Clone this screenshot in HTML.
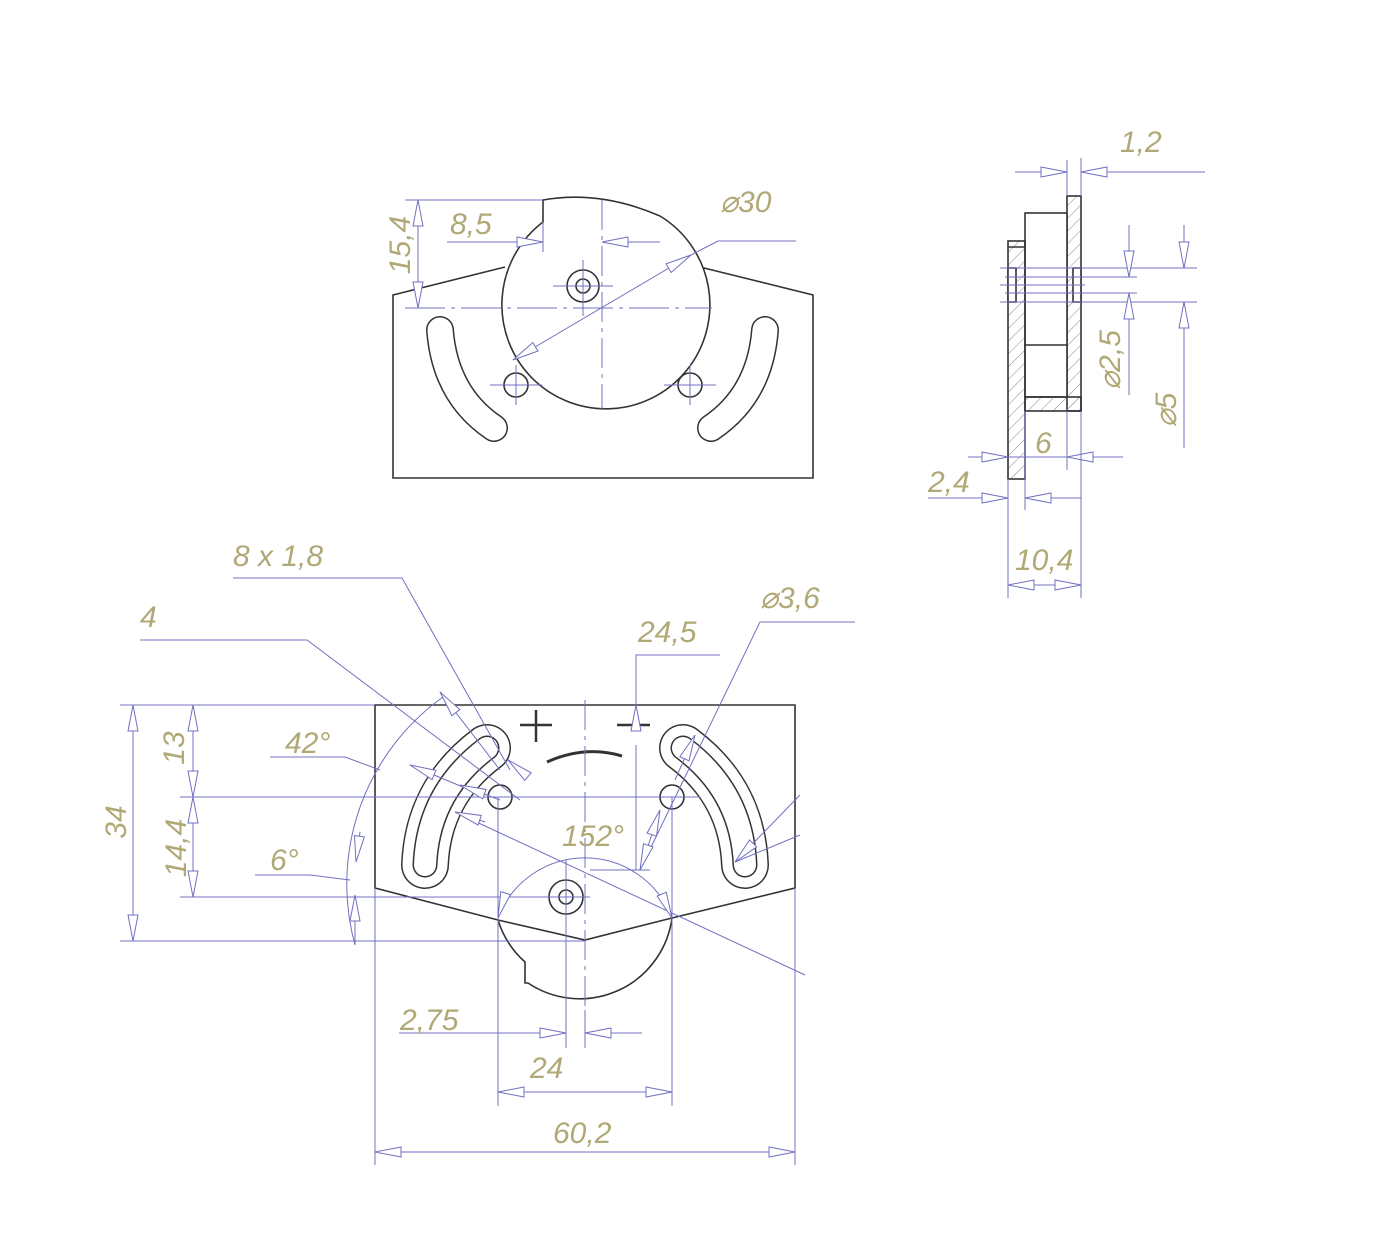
<!DOCTYPE html>
<html><head><meta charset="utf-8"><style>html,body{margin:0;padding:0;background:#fff}svg{display:block}
text{font-family:"Liberation Sans",sans-serif;font-style:italic;fill:#b0a876;font-size:30px}</style></head>
<body>
<svg width="1375" height="1237" viewBox="0 0 1375 1237" xmlns="http://www.w3.org/2000/svg">
<defs>
<marker id="a" viewBox="-28 -7 30 14" refX="0" refY="0" markerWidth="30" markerHeight="14" markerUnits="userSpaceOnUse" orient="auto-start-reverse">
<path d="M0,0 L-26,-5 L-26,5 Z" fill="#fff" stroke="#7070c0" stroke-width="1"/></marker>
<pattern id="h" width="9" height="9" patternUnits="userSpaceOnUse" patternTransform="rotate(45)"><line x1="0" y1="0" x2="0" y2="9" stroke="#8a8a8a" stroke-width="1"/></pattern>
</defs>
<rect width="1375" height="1237" fill="#fff"/>

<!-- ===== TOP VIEW ===== -->
<g fill="none" stroke="#333" stroke-width="1.6">
<path d="M505,267 L393,295 L393,478 L813,478 L813,295 L700,267"/>
<path d="M543,222 L543,200 Q600,190 660,216 A104,104 0 1 1 543,222 Z" fill="#fff"/>
<circle cx="583" cy="286" r="16"/><circle cx="583" cy="286" r="7"/>
<circle cx="516" cy="385" r="12"/><circle cx="690" cy="385" r="12"/>
</g>
<g fill="none" stroke-linecap="round">
<path d="M440,330 Q445,395 494,428" stroke="#333" stroke-width="28"/>
<path d="M440,330 Q445,395 494,428" stroke="#fff" stroke-width="25"/>
<path d="M765,330 Q760,395 711,428" stroke="#333" stroke-width="28"/>
<path d="M765,330 Q760,395 711,428" stroke="#fff" stroke-width="25"/>
</g>
<g stroke="#7070c0" stroke-width="1" fill="none">
<line x1="405" y1="200" x2="543" y2="200"/><line x1="405" y1="308" x2="712" y2="308" stroke-dasharray="40,6,4,6"/>
<line x1="418" y1="200" x2="418" y2="308" marker-start="url(#a)" marker-end="url(#a)"/>
<line x1="447" y1="242" x2="543" y2="242" marker-end="url(#a)"/>
<line x1="660" y1="242" x2="602" y2="242" marker-end="url(#a)"/>
<line x1="543" y1="222" x2="543" y2="252"/>
<line x1="602" y1="200" x2="602" y2="410" stroke-dasharray="30,6,4,6"/>
<line x1="553" y1="286" x2="613" y2="286"/><line x1="583" y1="260" x2="583" y2="316"/>
<line x1="490" y1="385" x2="542" y2="385"/><line x1="516" y1="365" x2="516" y2="405"/>
<line x1="664" y1="385" x2="716" y2="385"/><line x1="690" y1="365" x2="690" y2="405"/>
<line x1="513" y1="360" x2="691" y2="255" marker-start="url(#a)" marker-end="url(#a)"/>
<polyline points="691,255 718,241 796,241"/>
</g>
<text transform="translate(410,245) rotate(-90)" text-anchor="middle">15,4</text>
<text x="450" y="234">8,5</text>
<text x="720" y="212">⌀30</text>

<!-- ===== SIDE VIEW ===== -->
<g stroke="#333" stroke-width="1.6">
<rect x="1067" y="196" width="14" height="215" fill="url(#h)"/>
<rect x="1025" y="213" width="42" height="184" fill="#fff"/>
<line x1="1025" y1="345" x2="1067" y2="345"/>
<rect x="1025" y="397" width="56" height="14" fill="url(#h)"/>
<rect x="1008" y="241" width="17" height="238" fill="url(#h)"/>
<line x1="1008" y1="247" x2="1025" y2="247"/>
<rect x="1008" y="268" width="8" height="34" fill="#fff"/>
<rect x="1073" y="268" width="8" height="34" fill="#fff"/>
</g>
<g stroke="#7070c0" stroke-width="1" fill="none">
<line x1="1067" y1="160" x2="1067" y2="196"/><line x1="1081" y1="158" x2="1081" y2="196"/>
<line x1="1015" y1="172" x2="1067" y2="172" marker-end="url(#a)"/>
<line x1="1205" y1="172" x2="1081" y2="172" marker-end="url(#a)"/>
<line x1="1000" y1="268" x2="1197" y2="268"/><line x1="1005" y1="277" x2="1137" y2="277"/>
<line x1="1000" y1="285" x2="1085" y2="285"/><line x1="1005" y1="293" x2="1137" y2="293"/>
<line x1="1000" y1="302" x2="1197" y2="302"/>
<line x1="1129" y1="225" x2="1129" y2="277" marker-end="url(#a)"/>
<line x1="1129" y1="395" x2="1129" y2="293" marker-end="url(#a)"/>
<line x1="1184" y1="225" x2="1184" y2="268" marker-end="url(#a)"/>
<line x1="1184" y1="448" x2="1184" y2="302" marker-end="url(#a)"/>
<line x1="1067" y1="411" x2="1067" y2="470"/>
<line x1="968" y1="457" x2="1008" y2="457" marker-end="url(#a)"/>
<line x1="1123" y1="457" x2="1067" y2="457" marker-end="url(#a)"/>
<line x1="1008" y1="457" x2="1067" y2="457"/>
<line x1="1025" y1="411" x2="1025" y2="510"/>
<line x1="928" y1="498" x2="1008" y2="498" marker-end="url(#a)"/>
<line x1="1081" y1="498" x2="1025" y2="498" marker-end="url(#a)"/>
<line x1="1008" y1="479" x2="1008" y2="598"/><line x1="1081" y1="411" x2="1081" y2="598"/>
<line x1="1008" y1="585" x2="1081" y2="585" marker-start="url(#a)" marker-end="url(#a)"/>
</g>
<text x="1120" y="152">1,2</text>
<text x="1035" y="453">6</text>
<text x="928" y="492">2,4</text>
<text x="1015" y="570">10,4</text>
<text transform="translate(1120,360) rotate(-90)" text-anchor="middle">⌀2,5</text>
<text transform="translate(1176,410) rotate(-90)" text-anchor="middle">⌀5</text>

<!-- ===== BOTTOM VIEW ===== -->
<g fill="none" stroke="#333" stroke-width="1.6">
<path d="M375,705 L795,705 L795,888 L672,918 A93,93 0 0 1 528,983 L525,983 L525,962 A93,93 0 0 1 498,920 L375,888 Z"/>
<path d="M498,920 L585,940 L672,918"/>
<circle cx="566" cy="897" r="17"/><circle cx="566" cy="897" r="7"/>
<circle cx="500" cy="797" r="12"/><circle cx="672" cy="797" r="12"/>
<path d="M547,762 Q585,745 622,756" stroke-width="3"/>
<path d="M520,725 L552,725 M536,710 L536,742 M617,725 L650,725" stroke-width="2.5"/>
</g>
<g fill="none" stroke-linecap="round">
<path d="M487,748 Q428,792 425,865" stroke="#333" stroke-width="48"/>
<path d="M487,748 Q428,792 425,865" stroke="#fff" stroke-width="45"/>
<path d="M487,748 Q428,792 425,865" stroke="#333" stroke-width="25"/>
<path d="M487,748 Q428,792 425,865" stroke="#fff" stroke-width="22"/>
<path d="M683,748 Q742,792 745,865" stroke="#333" stroke-width="48"/>
<path d="M683,748 Q742,792 745,865" stroke="#fff" stroke-width="45"/>
<path d="M683,748 Q742,792 745,865" stroke="#333" stroke-width="25"/>
<path d="M683,748 Q742,792 745,865" stroke="#fff" stroke-width="22"/>
</g>
<g stroke="#7070c0" stroke-width="1" fill="none">
<line x1="120" y1="705" x2="375" y2="705"/><line x1="120" y1="941" x2="585" y2="941"/>
<line x1="180" y1="797" x2="700" y2="797"/><line x1="180" y1="897" x2="590" y2="897"/>
<line x1="133" y1="705" x2="133" y2="941" marker-start="url(#a)" marker-end="url(#a)"/>
<line x1="193" y1="705" x2="193" y2="797" marker-start="url(#a)" marker-end="url(#a)"/>
<line x1="193" y1="797" x2="193" y2="897" marker-start="url(#a)" marker-end="url(#a)"/>
<line x1="585" y1="700" x2="585" y2="1010" stroke-dasharray="30,6,4,6"/>
<line x1="566" y1="860" x2="566" y2="1048"/><line x1="585" y1="1010" x2="585" y2="1048"/>
<line x1="399" y1="1033" x2="566" y2="1033" marker-end="url(#a)"/>
<line x1="642" y1="1033" x2="585" y2="1033" marker-end="url(#a)"/>
<line x1="498" y1="797" x2="498" y2="1106"/><line x1="672" y1="797" x2="672" y2="1106"/>
<line x1="498" y1="1092" x2="672" y2="1092" marker-start="url(#a)" marker-end="url(#a)"/>
<line x1="375" y1="888" x2="375" y2="1165"/><line x1="795" y1="888" x2="795" y2="1165"/>
<line x1="375" y1="1152" x2="795" y2="1152" marker-start="url(#a)" marker-end="url(#a)"/>
<polyline points="720,655 636,655 636,705"/>
<line x1="636" y1="705" x2="636" y2="720" marker-start="url(#a)"/>
<line x1="636" y1="870" x2="636" y2="745"/>
<line x1="590" y1="870" x2="650" y2="870"/>
<polyline points="855,622 760,622 640,870"/>
<line x1="640" y1="870" x2="660" y2="810" marker-start="url(#a)" marker-end="url(#a)"/>
<line x1="675" y1="780" x2="695" y2="735" marker-end="url(#a)"/>
<polyline points="233,578 402,578 510,770"/>
<polyline points="140,640 307,640 520,800"/>
<line x1="440" y1="692" x2="500" y2="770" marker-start="url(#a)"/>
<line x1="470" y1="790" x2="410" y2="765" marker-end="url(#a)"/>
<line x1="500" y1="800" x2="460" y2="785" marker-end="url(#a)"/>
<line x1="455" y1="812" x2="805" y2="975"/>
<line x1="455" y1="812" x2="485" y2="822" marker-start="url(#a)"/>
<line x1="520" y1="770" x2="508" y2="760" marker-end="url(#a)"/>
<polyline points="270,757 345,757 380,770"/>
<polyline points="255,875 310,875 350,880"/>
<path d="M443,697 A230,230 0 0 0 355,945"/>
<line x1="355" y1="945" x2="355" y2="895" marker-end="url(#a)"/>
<line x1="360" y1="832" x2="356" y2="862" marker-end="url(#a)"/>
<path d="M498,918 A93,93 0 0 1 672,918"/>
<line x1="505" y1="895" x2="498" y2="918" marker-end="url(#a)"/>
<line x1="662" y1="895" x2="672" y2="918" marker-end="url(#a)"/>
<line x1="800" y1="795" x2="735" y2="862" marker-end="url(#a)"/>
<line x1="800" y1="835" x2="735" y2="862"/>
</g>
<text x="233" y="566">8 x 1,8</text>
<text x="140" y="627">4</text>
<text x="638" y="642">24,5</text>
<text x="760" y="608">⌀3,6</text>
<text x="285" y="753">42°</text>
<text x="270" y="870">6°</text>
<text x="562" y="846">152°</text>
<text x="400" y="1030">2,75</text>
<text x="530" y="1078">24</text>
<text x="553" y="1143">60,2</text>
<text transform="translate(126,822) rotate(-90)" text-anchor="middle">34</text>
<text transform="translate(184,748) rotate(-90)" text-anchor="middle">13</text>
<text transform="translate(186,848) rotate(-90)" text-anchor="middle">14,4</text>
</svg>
</body></html>
